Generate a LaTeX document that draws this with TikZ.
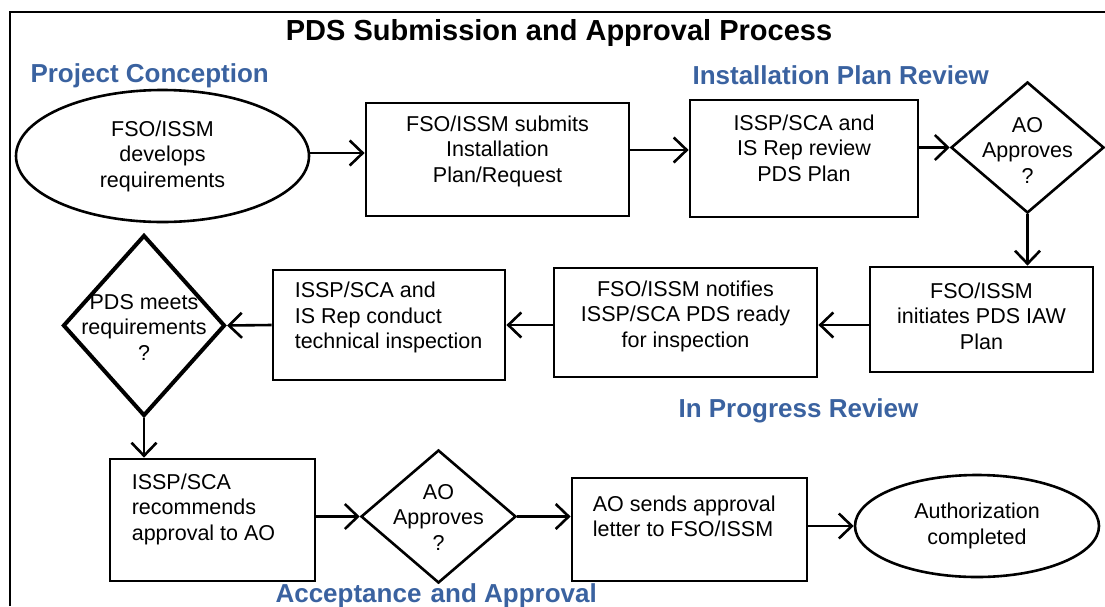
\documentclass[tikz,border=0pt]{standalone}
\usepackage{fontspec}
\setmainfont{Liberation Sans}
\usetikzlibrary{shapes.geometric,arrows.meta}
\definecolor{phaseblue}{HTML}{3A62A0}
\newcommand{\bodyfont}{\fontsize{21.5}{25.5}\selectfont}

\begin{document}
\begin{tikzpicture}[x=1pt,y=-1pt,
	task/.style={draw,line width=2.8pt,inner sep=0pt},
	decision/.style={diamond,draw,line width=2.6pt,inner sep=0pt},
	terminal/.style={ellipse,draw,line width=2.6pt,inner sep=0pt,align=center,font=\bodyfont},
	phaselabel/.style={anchor=base west,text=phaseblue,font=\fontsize{26}{30}\selectfont\bfseries},
	every label/.style={align=center,font=\bodyfont,inner sep=0pt},
	flow/.style={line width=2.6pt,-{Straight Barb[length=13pt,width=25pt]}}]
	\useasboundingbox (0,0) rectangle (1105,606);
	\draw[line width=2pt] (10,606) -- (10,12) -- (1105,12);
	\node[anchor=base,font=\fontsize{29}{33}\selectfont\bfseries] (title) at (559,40) {PDS Submission and Approval Process};
	\node[phaselabel] (conception) at (27,82) {Project Conception};
	\node[phaselabel] (planreview) at (689,84) {Installation Plan Review};
	\node[phaselabel] (progress) at (675,417) {In Progress Review};
	\node[phaselabel] (acceptance) at (272,602) {Acceptance\hspace{2pt} and Approval};

	\node[terminal,minimum width=293pt,minimum height=132pt] (develop) at (162.5,156) {FSO/ISSM\\develops\\requirements};
	\node[task,minimum width=263pt,minimum height=113pt,label={[yshift=8.5pt]center:FSO/ISSM submits\\Installation\\Plan/Request}] (submit) at (497.5,159.5) {};
	\node[task,minimum width=228pt,minimum height=117pt,label={[yshift=10.5pt]center:ISSP/SCA and\\IS Rep review\\PDS Plan}] (review) at (804,158.5) {};
	\node[decision,minimum width=153pt,minimum height=131pt,label={[yshift=-2.5pt]center:AO\\Approves\\?}] (approve1) at (1027.5,147.5) {};
	\node[task,minimum width=223pt,minimum height=105pt,label={[yshift=3.5pt]center:FSO/ISSM\\initiates PDS IAW\\Plan}] (initiate) at (981.5,319.5) {};
	\node[task,minimum width=263pt,minimum height=109pt,label={[yshift=6.5pt]center:FSO/ISSM notifies\\ISSP/SCA PDS ready\\for inspection}] (notify) at (685.5,322.5) {};
	\node[task,minimum width=232pt,minimum height=110pt,label={[anchor=west,align=left,xshift=23pt,yshift=7.5pt]west:ISSP/SCA and\\IS Rep conduct\\technical inspection}] (inspect) at (389,325) {};
	\node[decision,line width=4pt,minimum width=162pt,minimum height=181pt,label={[yshift=-1.5pt]center:PDS meets\\requirements\\?}] (meets) at (144,325.5) {};
	\node[task,minimum width=205pt,minimum height=122pt,label={[anchor=west,align=left,xshift=23pt,yshift=11pt]west:ISSP/SCA\\recommends\\approval to AO}] (recommend) at (212.5,520) {};
	\node[decision,minimum width=155pt,minimum height=133pt,label={[yshift=-0.5pt]center:AO\\Approves\\?}] (approve2) at (438.5,516.5) {};
	\node[task,minimum width=235pt,minimum height=103pt,label={[anchor=west,align=left,xshift=22pt,yshift=13pt]west:AO sends approval\\letter to FSO/ISSM}] (send) at (689.5,529.5) {};
	\node[terminal,minimum width=244pt,minimum height=102pt] (done) at (977,526) {Authorization\\completed};

	\draw[flow] ([yshift=3pt]develop.east) -- ([yshift=3pt]develop.east -| submit.west);
	\draw[flow] ([yshift=9.5pt]submit.east) -- ([yshift=9.5pt]submit.east -| review.west);
	\draw[flow] (review.east |- approve1.west) -- (approve1.west);
	\draw[flow] (approve1.south) -- (approve1.south |- initiate.north);
	\draw[flow] (initiate.west |- inspect.east) -- (notify.east |- inspect.east);
	\draw[flow] (notify.west |- inspect.east) -- (inspect.east);
	\draw[flow] (inspect.west) -- (meets.east);
	\draw[flow] (meets.south) -- (meets.south |- recommend.north);
	\draw[flow] (recommend.east |- approve2.west) -- (approve2.west);
	\draw[flow] (approve2.east) -- (approve2.east -| send.west);
	\draw[flow] (send.east |- done.west) -- (done.west);
\end{tikzpicture}
\end{document}
